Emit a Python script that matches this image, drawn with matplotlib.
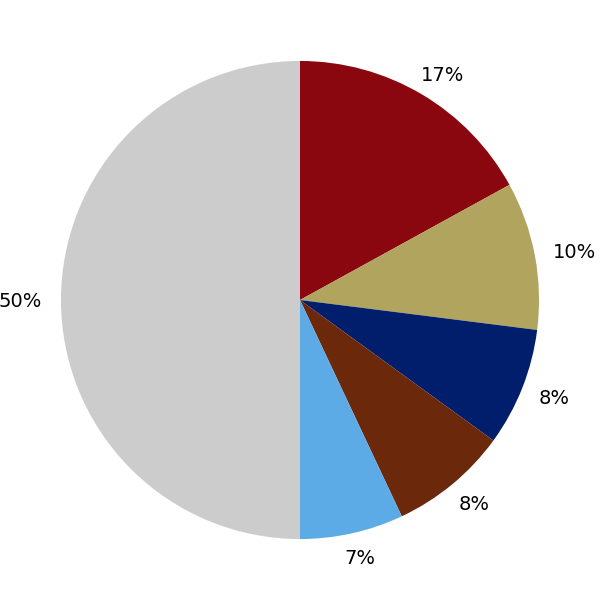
import matplotlib
matplotlib.use("Agg")
import matplotlib.pyplot as plt
import numpy as np

shares = [17, 10, 8, 8, 7, 50]
colors = ["#8B0710", "#B0A45E", "#001E6C", "#6C280B", "#5DABE6", "#CCCCCC"]
labels = ["%d%%" % s for s in shares]

fig = plt.figure(figsize=(6, 6), dpi=100)
ax = fig.add_axes([0, 0, 1, 1])
lim = 1.255
wedges, texts = ax.pie(shares, colors=colors, labels=labels, startangle=90,
                       counterclock=False, labeldistance=1.075,
                       textprops={"fontsize": 14, "color": "black",
                                  "family": "DejaVu Sans"})
ax.set_xlim(-lim, lim)
ax.set_ylim(-lim, lim)
ax.set_aspect("equal")
ax.axis("off")

# push each label outward so its near edge sits just off the rim
fig.canvas.draw()
renderer = fig.canvas.get_renderer()
px = 2 * lim / 600
for t in texts:
    t.set_horizontalalignment("center")
    t.set_verticalalignment("center")
for t, w in zip(texts, wedges):
    th = np.deg2rad((w.theta1 + w.theta2) / 2)
    bb = t.get_window_extent(renderer)
    x, y = t.get_position()
    t.set_position((x + np.cos(th) * (bb.width / 2 + 1) * px,
                    y + (np.sin(th) * bb.height * 0.33 - 2) * px))

fig.savefig("out.png", dpi=100, facecolor="white")
